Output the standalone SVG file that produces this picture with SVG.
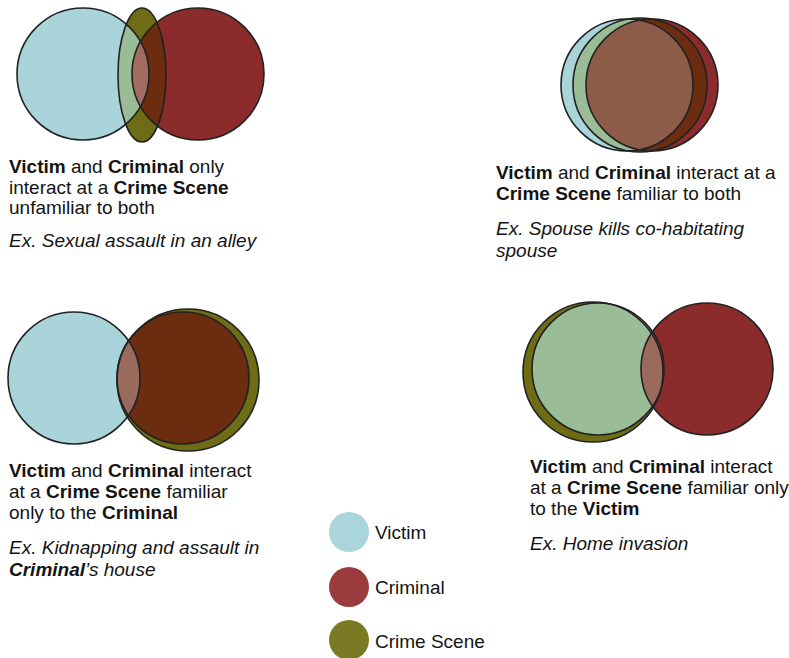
<svg xmlns="http://www.w3.org/2000/svg" width="789" height="658" viewBox="0 0 789 658">
<style>
.v{fill:#a8d4da}.c{fill:#8c2b2b}.s{fill:#6e6d15}
.vs{fill:#9abc97}.sc{fill:#6b2c10}.vc{fill:#a06b61}.vsc{fill:#966452}
.o{fill:none;stroke:#222;stroke-width:1.6}
text{font-family:"Liberation Sans",Arial,Helvetica,sans-serif;font-size:19px;fill:#141414}
.b{font-weight:bold}.i{font-style:italic}
</style>
<defs>
<clipPath id="tlV"><circle cx="83" cy="74" r="66"/></clipPath>
<clipPath id="tlS"><ellipse cx="142" cy="75" rx="24" ry="67"/></clipPath>
<clipPath id="trV"><circle cx="627" cy="85" r="66"/></clipPath>
<clipPath id="trS"><circle cx="640" cy="85" r="67"/></clipPath>
<clipPath id="blV"><circle cx="74" cy="378" r="66"/></clipPath>
<clipPath id="blS"><circle cx="188" cy="380" r="71"/></clipPath>
<clipPath id="brV"><circle cx="598" cy="369" r="66"/></clipPath>
<clipPath id="brS"><circle cx="593" cy="372" r="70"/></clipPath>
</defs>

<g id="venn-top-left">
<circle class="v" cx="83" cy="74" r="66"/>
<ellipse class="s" cx="142" cy="75" rx="24" ry="67"/>
<circle class="c" cx="198" cy="74" r="66"/>
<ellipse class="vs" cx="142" cy="75" rx="24" ry="67" clip-path="url(#tlV)"/>
<circle class="sc" cx="198" cy="74" r="66" clip-path="url(#tlS)"/>
<g clip-path="url(#tlV)"><circle class="vsc" style="fill:#a36c63" cx="198" cy="74" r="66" clip-path="url(#tlS)"/></g>
<circle class="o" cx="83" cy="74" r="66"/>
<ellipse class="o" cx="142" cy="75" rx="24" ry="67"/>
<circle class="o" cx="198" cy="74" r="66"/>
<text x="9" y="173"><tspan class="b">Victim</tspan> and <tspan class="b">Criminal</tspan> only</text>
<text x="9" y="194">interact at a <tspan class="b">Crime Scene</tspan></text>
<text x="9" y="214">unfamiliar to both</text>
<text x="9" y="247" class="i">Ex. Sexual assault in an alley</text>
</g>

<g id="venn-top-right">
<circle class="v" cx="627" cy="85" r="66"/>
<circle class="s" cx="640" cy="85" r="67"/>
<circle class="c" cx="652" cy="85" r="66"/>
<circle class="vs" cx="640" cy="85" r="67" clip-path="url(#trV)"/>
<circle class="sc" cx="652" cy="85" r="66" clip-path="url(#trS)"/>
<g clip-path="url(#trV)"><circle class="vsc" style="fill:#8d5c49" cx="652" cy="85" r="66" clip-path="url(#trS)"/></g>
<circle class="o" cx="627" cy="85" r="66"/>
<circle class="o" cx="640" cy="85" r="67"/>
<circle class="o" cx="652" cy="85" r="66"/>
<text x="496" y="179"><tspan class="b">Victim</tspan> and <tspan class="b">Criminal</tspan> interact at a</text>
<text x="496" y="200"><tspan class="b">Crime Scene</tspan> familiar to both</text>
<text x="496" y="235" class="i">Ex. Spouse kills co-habitating</text>
<text x="496" y="257" class="i">spouse</text>
</g>

<g id="venn-bottom-left">
<circle class="v" cx="74" cy="378" r="66"/>
<circle class="s" cx="188" cy="380" r="71"/>
<circle class="sc" cx="183" cy="378" r="66"/>
<g clip-path="url(#blV)"><circle class="vsc" style="fill:#9b6a5e" cx="183" cy="378" r="66" clip-path="url(#blS)"/></g>
<circle class="o" cx="188" cy="380" r="71"/>
<circle class="o" cx="74" cy="378" r="66"/>
<circle class="o" cx="183" cy="378" r="66"/>
<text x="9" y="477"><tspan class="b">Victim</tspan> and <tspan class="b">Criminal</tspan> interact</text>
<text x="9" y="498">at a <tspan class="b">Crime Scene</tspan> familiar</text>
<text x="9" y="519">only to the <tspan class="b">Criminal</tspan></text>
<text x="9" y="554" class="i">Ex. Kidnapping and assault in</text>
<text x="9" y="576" class="i"><tspan class="b">Criminal</tspan>’s house</text>
</g>

<g id="venn-bottom-right">
<circle class="s" cx="593" cy="372" r="70"/>
<circle class="vs" cx="598" cy="369" r="66"/>
<circle class="c" cx="707" cy="369" r="66"/>
<circle class="vc" cx="707" cy="369" r="66" clip-path="url(#brV)"/>
<g clip-path="url(#brV)"><circle class="vsc" style="fill:#9a6a5c" cx="707" cy="369" r="66" clip-path="url(#brS)"/></g>
<circle class="o" cx="593" cy="372" r="70"/>
<circle class="o" cx="598" cy="369" r="66"/>
<circle class="o" cx="707" cy="369" r="66"/>
<text x="530" y="473"><tspan class="b">Victim</tspan> and <tspan class="b">Criminal</tspan> interact</text>
<text x="530" y="494">at a <tspan class="b">Crime Scene</tspan> familiar only</text>
<text x="530" y="515">to the <tspan class="b">Victim</tspan></text>
<text x="530" y="550" class="i">Ex. Home invasion</text>
</g>

<g id="legend">
<circle cx="349" cy="532" r="20" fill="#a9d5db"/>
<circle cx="349" cy="587" r="20" fill="#9c3b3d"/>
<circle cx="349" cy="640" r="20" fill="#7b7a24"/>
<text x="375" y="539">Victim</text>
<text x="375" y="594">Criminal</text>
<text x="375" y="648">Crime Scene</text>
</g>
</svg>
